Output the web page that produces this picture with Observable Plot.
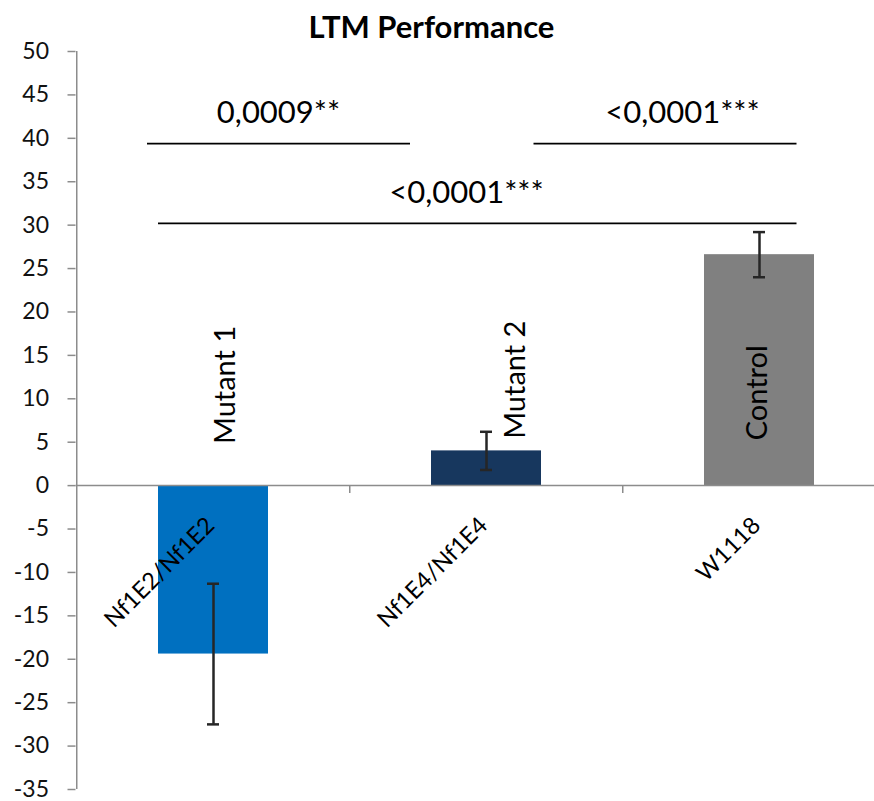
<!DOCTYPE html>
<html><head><meta charset="utf-8">
<script src="https://cdn.jsdelivr.net/npm/d3@7"></script>
<script src="https://cdn.jsdelivr.net/npm/@observablehq/plot@0.6"></script>
<style>
body{margin:0;background:#fff;overflow:hidden;font-family:Lato,sans-serif}
#title{position:relative;height:40px;width:874px}
#title span{position:absolute;left:0;width:863px;text-align:center;top:10.5px;line-height:1;font-weight:bold;font-size:31px;color:#000}
</style></head><body>
<div id="title"><span>LTM Performance</span></div>
<div id="chart"></div>
<script>
// ---- data ----
const genotypes = ["Nf1E2/Nf1E2", "Nf1E4/Nf1E4", "W1118"];
const groups = ["Mutant 1", "Mutant 2", "Control"];
const means = [-19.4, 4.0, 26.6];
const errors = [8.1, 2.2, 2.6];
const barColors = ["#0070C0", "#17375E", "#808080"];
const yTicks = [-35, -30, -25, -20, -15, -10, -5, 0, 5, 10, 15, 20, 25, 30, 35, 40, 45, 50];
const compFrom = ["Nf1E2/Nf1E2", "Nf1E4/Nf1E4", "Nf1E2/Nf1E2"];
const compTo = ["Nf1E4/Nf1E4", "W1118", "W1118"];
const compLevel = [39.4, 39.4, 30.2];
const compLabels = ["0,0009**", "<0,0001***", "<0,0001***"];

// ---- layout / style ----
const groupLabelY = [11.6, 12.2, 10.7];
const groupLabelDx = [12, 29, -2];
const lineInsets = [[-11, 131], [102.5, 17.5], [0, 17.5]];
const compLabelAt = [["Nf1E2/Nf1E2", 65], ["W1118", -77], ["Nf1E4/Nf1E4", -20]];
const half = 136.75;
const axisGray = "#8c8c8c";

const rows = genotypes.map((g, i) => ({g, group: groups[i], m: means[i], e: errors[i], color: barColors[i], ly: groupLabelY[i], ldx: groupLabelDx[i]}));
const comps = compFrom.map((f, i) => ({from: f, to: compTo[i], y: compLevel[i], label: compLabels[i]}));

const marks = [
  Plot.barY(rows, {x: "g", y: "m", fill: "color"}),
  Plot.ruleY([0], {stroke: axisGray, strokeWidth: 1.5}),
  Plot.ruleX([genotypes[0]], {y1: yTicks[0], y2: yTicks[yTicks.length - 1], dx: -half, stroke: axisGray, strokeWidth: 1.5}),
  Plot.ruleX(genotypes.slice(1), {y1: 0, y2: -0.9, dx: -half, stroke: axisGray, strokeWidth: 1.5}),
  Plot.axisY({ticks: yTicks, tickFormat: d => String(d), tickSize: 8, tickPadding: 19, fontSize: 23, stroke: axisGray, strokeWidth: 1.5, fill: "#111", strokeOpacity: 1}),
  Plot.ruleX(rows, {x: "g", y1: d => d.m - d.e, y2: d => d.m + d.e, stroke: "#262626", strokeWidth: 2.5}),
  Plot.tickY(rows, {x: "g", y: d => d.m - d.e, inset: 49, stroke: "#262626", strokeWidth: 2.5}),
  Plot.tickY(rows, {x: "g", y: d => d.m + d.e, inset: 49, stroke: "#262626", strokeWidth: 2.5}),
  Plot.text(rows, {x: "g", y: 0, text: "g", rotate: -45, textAnchor: "end", lineAnchor: "middle", dx: -3, dy: 36, fontSize: 23.5, fill: "#000"})
];
rows.forEach(r => marks.push(Plot.text([r], {x: "g", y: "ly", text: "group", rotate: -90, textAnchor: "middle", lineAnchor: "middle", dx: r.ldx, fontSize: 29, fill: "#000"})));
comps.forEach((c, i) => {
  marks.push(Plot.ruleY([c], {y: "y", x1: "from", x2: "to", insetLeft: lineInsets[i][0], insetRight: lineInsets[i][1], stroke: "#000", strokeWidth: 1.8}));
  marks.push(Plot.text([c], {x: () => compLabelAt[i][0], y: "y", text: "label", dx: compLabelAt[i][1], dy: -30, lineAnchor: "middle", fontSize: 31, fill: "#000"}));
});

const chart = Plot.plot({
  width: 874,
  height: 761,
  marginTop: 11,
  marginBottom: 12,
  marginLeft: 75.5,
  marginRight: 0,
  style: {fontFamily: "Lato, sans-serif", overflow: "visible", background: "transparent"},
  x: {type: "band", domain: genotypes, range: [75.5, 896], paddingInner: 0.596, paddingOuter: 0.298, axis: null},
  y: {domain: [yTicks[0], yTicks[yTicks.length - 1]]},
  color: {type: "identity"},
  marks
});
document.getElementById("chart").appendChild(chart);
</script>
</body></html>
